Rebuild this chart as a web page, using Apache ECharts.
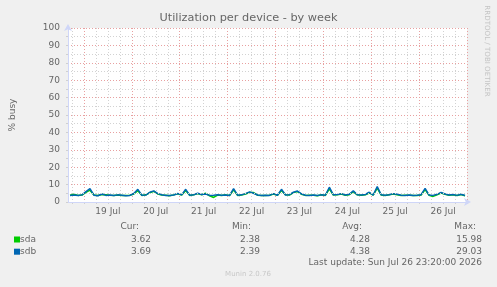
<!DOCTYPE html>
<html lang="en">
<head>
<meta charset="UTF-8">
<title>Utilization per device - by week</title>
<script src="https://cdn.jsdelivr.net/npm/echarts@6/dist/echarts.min.js"></script>
<style>
    html, body { margin: 0; padding: 0; background: #f0f0f0; }
    #chart { width: 497px; height: 287px; }
</style>
</head>
<body>
<div id="chart"></div>
<script>
// hours counted from 18 Jul 00:00, one averaged sample every 2 hours
var firstHour = 16, lastHour = 216;
var sampleHours = [];
for (var i = 0; i < 100; i++) sampleHours.push(17 + 2 * i);

var sda = [3.9, 4.5, 3.8, 4.0, 5.5, 6.8, 4.0, 3.7, 4.3, 4.2,
           3.9, 3.8, 4.0, 3.8, 3.7, 3.9, 4.6, 6.5, 3.8, 4.1,
           5.3, 6.1, 4.6, 4.0, 3.9, 3.6, 4.1, 4.7, 4.0, 6.6,
           3.8, 4.1, 4.8, 4.2, 5.0, 3.6, 2.6, 4.0, 3.8, 4.1,
           3.7, 7.0, 3.8, 4.0, 4.6, 5.5, 5.4, 3.9, 3.8, 3.8,
           3.9, 4.6, 3.8, 6.6, 4.1, 4.0, 5.4, 6.0, 4.5, 3.8,
           3.9, 3.9, 3.6, 4.2, 3.8, 7.6, 4.0, 4.1, 4.6, 3.9,
           4.2, 6.0, 4.1, 3.9, 4.2, 5.2, 3.9, 8.0, 4.0, 3.8,
           4.1, 4.6, 4.2, 3.8, 3.9, 3.9, 3.8, 3.8, 4.0, 7.1,
           3.9, 3.2, 4.2, 5.2, 4.4, 3.9, 4.1, 3.7, 4.3, 3.6];
var sdb = [3.8, 4.0, 3.7, 4.1, 6.0, 7.7, 3.9, 3.6, 4.6, 3.8,
           4.0, 3.7, 4.1, 3.9, 3.6, 3.8, 4.9, 7.3, 3.9, 4.0,
           5.6, 6.4, 4.8, 4.2, 3.8, 3.7, 4.0, 4.9, 4.1, 7.3,
           3.9, 4.2, 5.0, 4.3, 4.6, 3.8, 3.9, 4.2, 3.9, 4.0,
           3.8, 7.7, 3.9, 4.1, 4.8, 5.8, 5.0, 4.0, 3.7, 3.9,
           3.8, 4.8, 3.9, 7.3, 4.0, 4.2, 5.6, 6.3, 4.7, 3.9,
           3.8, 4.0, 3.7, 4.1, 3.9, 8.5, 4.1, 4.3, 4.8, 4.0,
           4.4, 6.4, 4.2, 4.0, 4.3, 5.6, 4.0, 8.8, 4.1, 3.9,
           4.2, 4.8, 4.4, 3.9, 3.8, 4.0, 3.7, 3.9, 4.2, 7.8,
           4.0, 3.8, 4.4, 5.5, 4.6, 4.0, 4.3, 3.8, 4.5, 3.7];

var dayLabels = ['19 Jul', '20 Jul', '21 Jul', '22 Jul', '23 Jul', '24 Jul', '25 Jul', '26 Jul'];

var devices = ['sda', 'sdb'];
var deviceColors = ['#00cc00', '#0066b3'];
var curValues = ['3.62', '3.69'];
var minValues = ['2.38', '2.39'];
var avgValues = ['4.28', '4.38'];
var maxValues = ['15.98', '29.03'];
var lastUpdate = 'Last update: Sun Jul 26 23:20:00 2026';

var gridHours = [];
for (var h = firstHour; h <= lastHour; h++) gridHours.push(h);

var font = 'DejaVu Sans';
var textColor = '#666';

function isMidnight(idx, val) { return Number(val) % 24 === 0; }
function isQuarter(idx, val) { var v = Number(val); return v % 6 === 0 && v % 24 !== 0; }

var graphics = [];
function txt(x, y, s, align, size, color) {
    graphics.push({type: 'text', x: x, y: y, silent: true,
        style: {text: s, align: align, verticalAlign: 'middle', fontFamily: font,
                 fontSize: size || 9, fill: color || textColor}});
}
txt(139, 227, 'Cur:', 'right');
txt(251, 227, 'Min:', 'right');
txt(362, 227, 'Avg:', 'right');
txt(476, 227, 'Max:', 'right');
var rowY = [239.5, 251.7];
for (var d = 0; d < devices.length; d++) {
    graphics.push({type: 'rect', shape: {x: 14, y: rowY[d] - 3, width: 6, height: 6},
        style: {fill: deviceColors[d]}, silent: true});
    txt(20, rowY[d], devices[d], 'left');
    txt(151, rowY[d], curValues[d], 'right');
    txt(260, rowY[d], minValues[d], 'right');
    txt(370, rowY[d], avgValues[d], 'right');
    txt(482, rowY[d], maxValues[d], 'right');
}
txt(482, 263, lastUpdate, 'right');
txt(248, 274, 'Munin 2.0.76', 'center', 7, '#c8c8c8');
graphics.push({type: 'text', x: 487, y: 51, rotation: -Math.PI / 2, silent: true,
    style: {text: 'RRDTOOL / TOBI OETIKER', align: 'center', verticalAlign: 'middle',
            fontFamily: font, fontSize: 7.1, fill: '#c4c4c4'}});

var chart = echarts.init(document.getElementById('chart'), null, {renderer: 'canvas'});
var option = {
    backgroundColor: '#f0f0f0',
    animation: false,
    textStyle: {fontFamily: font},
    title: {
        text: 'Utilization per device - by week',
        left: 'center', top: 13, padding: 0,
        textStyle: {fontFamily: font, fontSize: 11.3, fontWeight: 'normal', color: textColor}
    },
    grid: {left: 67, right: 30, top: 28, bottom: 85, show: true, backgroundColor: '#fff', borderWidth: 0},
    xAxis: [
        {
            type: 'category', data: gridHours, boundaryGap: false, position: 'bottom',
            axisLine: {show: false}, axisLabel: {show: false},
            axisTick: {show: true, interval: isQuarter, length: 2, lineStyle: {color: '#d0d0d0'}},
            splitLine: {show: true, interval: isQuarter, lineStyle: {color: '#d2d2d2', type: [1, 2]}}
        },
        {
            type: 'category', data: gridHours, boundaryGap: false, position: 'bottom',
            axisLine: {show: false},
            axisTick: {show: true, interval: isMidnight, length: 2, lineStyle: {color: '#d0d0d0'}},
            axisLabel: {
                interval: function (idx, val) { return Number(val) % 24 === 12; },
                formatter: function (val) { return dayLabels[Math.floor((Number(val) - 36) / 24)]; },
                color: textColor, fontSize: 9, margin: 5
            },
            splitLine: {show: true, interval: isMidnight, lineStyle: {color: '#e8a0a0', type: [1, 2]}}
        },
        {
            type: 'value', min: firstHour, max: lastHour, position: 'bottom', z: 5,
            axisLine: {show: true, onZero: false, lineStyle: {color: '#cfd6f8'}, symbol: ['none', 'arrow'],
                       symbolSize: [6, 7], symbolOffset: [0, 4]},
            axisTick: {show: false}, axisLabel: {show: false}, splitLine: {show: false}
        }
    ],
    yAxis: {
        type: 'value', min: 0, max: 100, interval: 5, z: 5,
        name: '% busy', nameLocation: 'middle', nameGap: 51,
        nameTextStyle: {color: textColor, fontSize: 9},
        axisLine: {show: true, lineStyle: {color: '#cfd6f8'}, symbol: ['none', 'arrow'],
                   symbolSize: [6, 7], symbolOffset: [0, 4]},
        axisTick: {show: true, length: 2, lineStyle: {color: '#d0d0d0'}},
        axisLabel: {
            formatter: function (v) { return v % 10 === 0 ? v : ''; },
            color: textColor, fontSize: 9, margin: 8
        },
        splitLine: {show: true, lineStyle: {color: ['#e8a0a0', '#d2d2d2'], type: [1, 2]}}
    },
    series: [
        {
            name: devices[0], type: 'line', xAxisIndex: 2, z: 3,
            data: sampleHours.map(function (h, i) { return [h, sda[i]]; }),
            showSymbol: false, lineStyle: {width: 1.5, color: deviceColors[0]}
        },
        {
            name: devices[1], type: 'line', xAxisIndex: 2, z: 4,
            data: sampleHours.map(function (h, i) { return [h, sdb[i]]; }),
            showSymbol: false, lineStyle: {width: 1.5, color: deviceColors[1]}
        }
    ],
    graphic: graphics
};
chart.setOption(option);
</script>
</body>
</html>
